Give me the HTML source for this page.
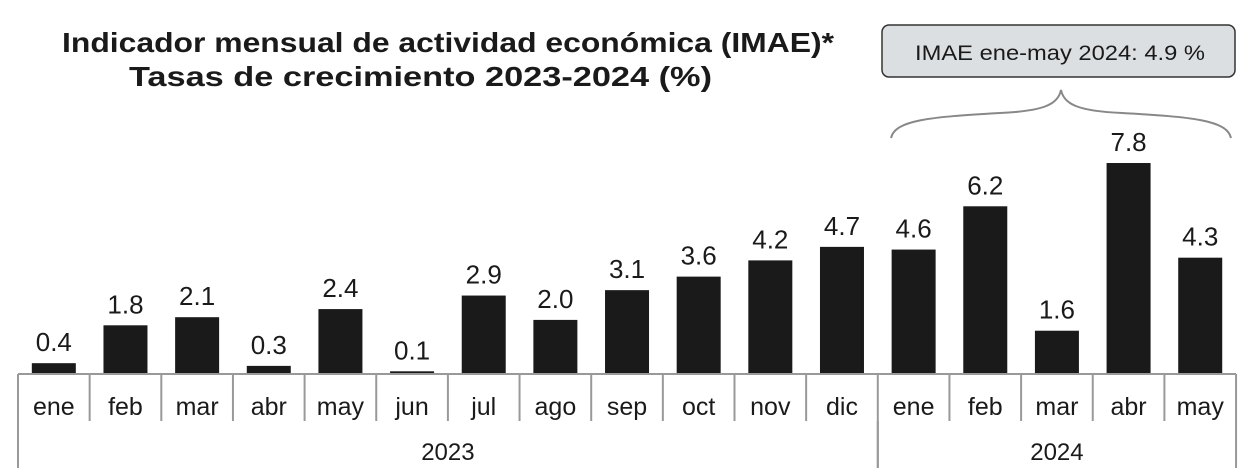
<!DOCTYPE html>
<html><head><meta charset="utf-8"><style>
html,body{margin:0;padding:0;background:#fff;}
svg{display:block;font-family:"Liberation Sans",sans-serif;}
</style></head><body>
<svg id="c" width="1258" height="474" viewBox="0 0 1258 474">
<text x="62" y="52" font-size="28" font-weight="bold" fill="#1a1a1a" textLength="772" lengthAdjust="spacingAndGlyphs">Indicador mensual de actividad económica (IMAE)*</text>
<text x="129" y="86" font-size="28" font-weight="bold" fill="#1a1a1a" textLength="583" lengthAdjust="spacingAndGlyphs">Tasas de crecimiento 2023-2024 (%)</text>
<rect x="882" y="25" width="353" height="52" rx="7" fill="#dcdfe2" stroke="#333" stroke-width="1.5"/>
<text x="915" y="60" font-size="21" fill="#1a1a1a" textLength="290" lengthAdjust="spacingAndGlyphs">IMAE ene-may 2024: 4.9 %</text>
<path d="M891,138 C895,120 930,117 1000,113 C1045,111 1058,104 1061,90 C1064,104 1077,111 1122,113 C1192,117 1227,120 1231,138" fill="none" stroke="#888" stroke-width="2"/>
<g id="bars"></g>
<g id="axis"></g>
</svg>
<script>
const months = ["ene","feb","mar","abr","may","jun","jul","ago","sep","oct","nov","dic","ene","feb","mar","abr","may"];
const values = [0.4,1.8,2.1,0.3,2.4,0.1,2.9,2.0,3.1,3.6,4.2,4.7,4.6,6.2,1.6,7.8,4.3];
const valueLabels = ["0.4","1.8","2.1","0.3","2.4","0.1","2.9","2.0","3.1","3.6","4.2","4.7","4.6","6.2","1.6","7.8","4.3"];
const years = ["2023","2024"];
const yearCounts = [12,5];

const NS="http://www.w3.org/2000/svg";
const x0=18, cw=71.65, base=374, k=27.05, bw=44;
function xs(i){return x0+i*cw;}
function ys(v){return base-v*k;}
function mk(t,a,p){const e=document.createElementNS(NS,t);for(const n in a)e.setAttribute(n,a[n]);p.appendChild(e);return e;}
const bars=document.getElementById('bars'), ax=document.getElementById('axis');
values.forEach((v,i)=>{
  const r=mk('rect',{x:xs(i)+(cw-bw)/2,y:ys(v),width:bw,height:base-ys(v),fill:'#1a1a1a'},bars);
  
  
  const t=mk('text',{x:xs(i)+cw/2,y:ys(v)-12,'text-anchor':'middle','font-size':'26',fill:'#1a1a1a'},bars);
  t.textContent=valueLabels[i];
  
  
  const m=mk('text',{x:xs(i)+cw/2,y:415,'text-anchor':'middle','font-size':'25',fill:'#1a1a1a'},ax);
  m.textContent=months[i];
  
  
});
const al=mk('line',{x1:x0,x2:xs(months.length),y1:base,y2:base,stroke:'#999','stroke-width':2},ax);


for(let i=0;i<=months.length;i++){
  const l=mk('line',{x1:xs(i),x2:xs(i),y1:base,y2:421,stroke:'#999','stroke-width':2},ax);
  
  
}
let s=0;
yearCounts.forEach((c,j)=>{
  [s,s+c].forEach(b=>{
    const l=mk('line',{x1:xs(b),x2:xs(b),y1:421,y2:468,stroke:'#999','stroke-width':2},ax);
    
    
  });
  const t=mk('text',{x:(xs(s)+xs(s+c))/2,y:460,'text-anchor':'middle','font-size':'24',fill:'#1a1a1a'},ax);
  t.textContent=years[j];
  
  
  s+=c;
});
</script>
</body></html>
